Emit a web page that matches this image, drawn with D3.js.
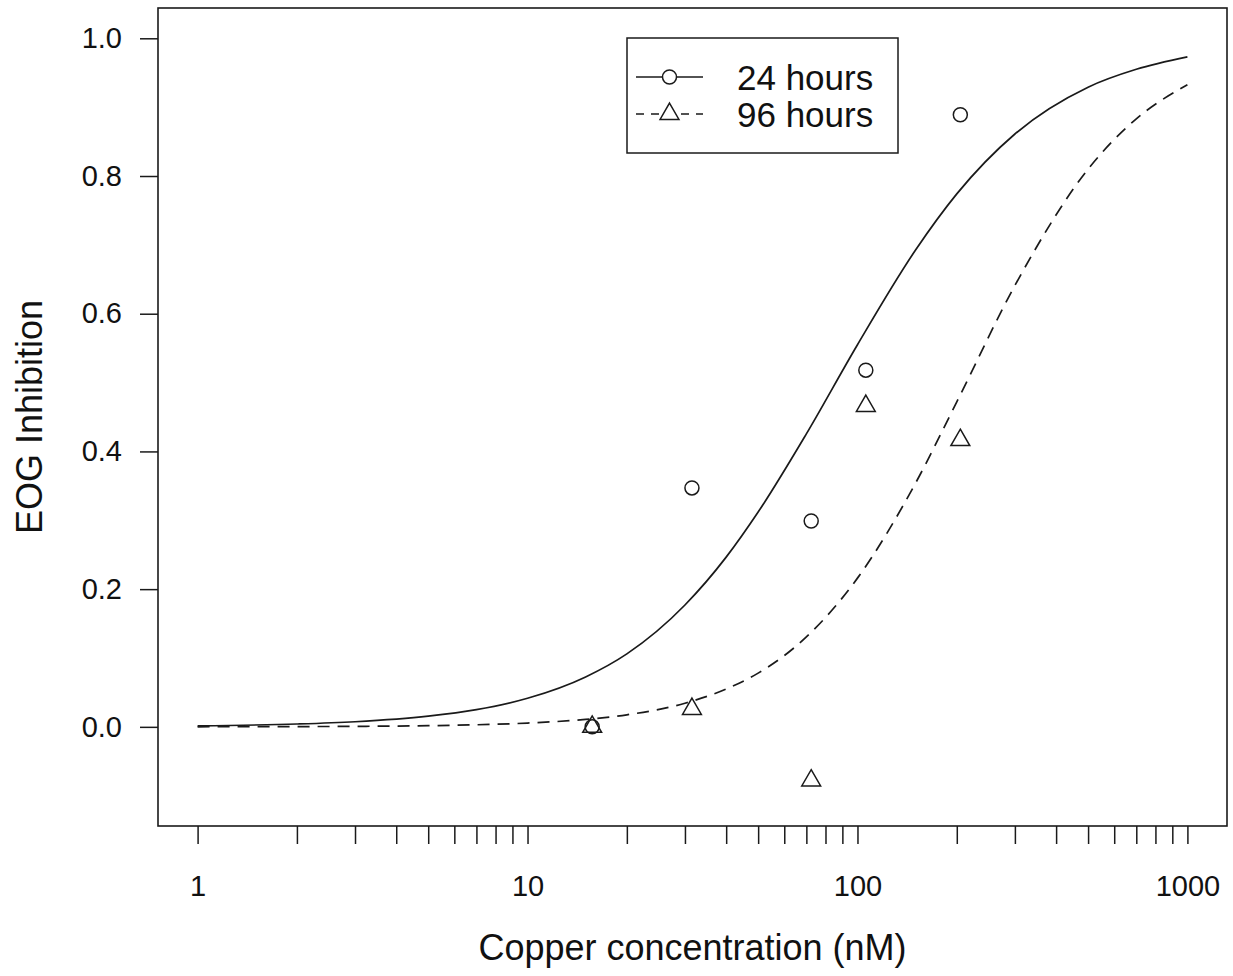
<!DOCTYPE html>
<html>
<head>
<meta charset="utf-8">
<script src="https://cdn.jsdelivr.net/npm/d3@7"></script>
<style>
  body { margin: 0; background: #fff; }
  svg { display: block; }
  text { font-family: "Liberation Sans", Arial, sans-serif; fill: #111; }
</style>
</head>
<body>
<div class="plot"></div>
<script>
// observed points (copper nM vs inhibition)
var conc24 = [15.7, 31.5, 72.4, 106, 205];
var inhib24 = [0.0, 0.347, 0.299, 0.518, 0.889];
var conc96 = [15.7, 31.5, 72.4, 106, 205];
var inhib96 = [0.0, 0.026, -0.078, 0.466, 0.4165];

// fitted curves
var curveConc = [1, 2, 3, 5, 7, 10, 15, 20, 30, 40, 50, 70, 100, 150, 200, 300, 500, 700, 1000];
var fit24 = [0.0015, 0.0041, 0.0074, 0.0155, 0.025, 0.0415, 0.0725, 0.106, 0.177, 0.2465, 0.312,
  0.4255, 0.555, 0.6925, 0.774, 0.861, 0.929, 0.955, 0.973];
var fit96 = [0.0001, 0.0004, 0.0007, 0.0017, 0.003, 0.0055, 0.0108, 0.0175, 0.0343, 0.055, 0.078,
  0.1306, 0.216, 0.354, 0.472, 0.641, 0.81, 0.883, 0.9325];

// axis ticks
var xTicks = [1, 2, 3, 4, 5, 6, 7, 8, 9, 10, 20, 30, 40, 50, 60, 70, 80, 90, 100,
  200, 300, 400, 500, 600, 700, 800, 900, 1000];
var xLabels = [1, 10, 100, 1000];
var yTicks = [0, 0.2, 0.4, 0.6, 0.8, 1.0];
var seriesNames = ["24 hours", "96 hours"];

var W = 1233, H = 976;
var box = { left: 158, right: 1227, top: 8, bottom: 826 };
var ink = "#1a1a1a";

var svg = d3.select(".plot")
  .append("svg")
  .attr("width", W)
  .attr("height", H);

// R style: 4% padding around xlim c(1,1000) (log) and ylim c(-0.1,1)
var xScale = d3.scaleLog()
  .domain([Math.pow(10, -0.12), Math.pow(10, 3.12)])
  .range([box.left, box.right]);
var yScale = d3.scaleLinear()
  .domain([-0.144, 1.044])
  .range([box.bottom, box.top]);

// x axis
var xAxis = d3.axisBottom(xScale)
  .tickValues(xTicks)
  .tickSize(18)
  .tickSizeOuter(0)
  .tickFormat(function (d) { return xLabels.indexOf(d) >= 0 ? d3.format("d")(d) : ""; });
var gx = svg.append("g")
  .attr("transform", "translate(0," + box.bottom + ")")
  .call(xAxis);
gx.select(".domain").remove();
gx.selectAll(".tick line").attr("stroke", ink).attr("stroke-width", 1.5);
gx.selectAll(".tick text")
  .attr("y", 0).attr("dy", 0)
  .attr("transform", "translate(0,70)")
  .style("font-size", "29px")
  .style("font-family", "Liberation Sans, Arial, sans-serif")
  .attr("fill", "#111");

// y axis
var yAxis = d3.axisLeft(yScale)
  .tickValues(yTicks)
  .tickSize(18)
  .tickSizeOuter(0)
  .tickPadding(18)
  .tickFormat(d3.format(".1f"));
var gy = svg.append("g")
  .attr("transform", "translate(" + box.left + ",0)")
  .call(yAxis);
gy.select(".domain").remove();
gy.selectAll(".tick line").attr("stroke", ink).attr("stroke-width", 1.5);
gy.selectAll(".tick text")
  .style("font-size", "29px")
  .style("font-family", "Liberation Sans, Arial, sans-serif")
  .attr("fill", "#111");

// plot frame
svg.append("rect")
  .attr("x", box.left)
  .attr("y", box.top)
  .attr("width", box.right - box.left)
  .attr("height", box.bottom - box.top)
  .attr("fill", "none")
  .attr("stroke", ink)
  .attr("stroke-width", 1.6);

// axis titles
svg.append("text")
  .attr("x", (box.left + box.right) / 2)
  .attr("y", 960)
  .style("text-anchor", "middle")
  .style("font-size", "36px")
  .text("Copper concentration (nM)");

svg.append("text")
  .attr("transform", "translate(42," + (box.top + box.bottom) / 2 + ") rotate(-90)")
  .style("text-anchor", "middle")
  .style("font-size", "36px")
  .text("EOG Inhibition");

// fitted curves
var line = d3.line()
  .x(function (d) { return xScale(d[0]); })
  .y(function (d) { return yScale(d[1]); })
  .curve(d3.curveMonotoneX);

svg.append("path")
  .datum(curveConc.map(function (c, i) { return [c, fit24[i]]; }))
  .attr("d", line)
  .attr("fill", "none")
  .attr("stroke", ink)
  .attr("stroke-width", 1.7);

svg.append("path")
  .datum(curveConc.map(function (c, i) { return [c, fit96[i]]; }))
  .attr("d", line)
  .attr("fill", "none")
  .attr("stroke", ink)
  .attr("stroke-width", 1.7)
  .attr("stroke-dasharray", "12,8");

// symbols, sized like R pch 1 / pch 2
var circleR = 7;
function triPath(r) {
  var top = 1.555 * r, half = 1.3468 * r, low = 0.7776 * r;
  return "M0," + (-top) + "L" + half + "," + low + "L" + (-half) + "," + low + "Z";
}

svg.append("g").selectAll("circle")
  .data(conc24.map(function (c, i) { return [c, inhib24[i]]; }))
  .enter().append("circle")
  .attr("cx", function (d) { return xScale(d[0]); })
  .attr("cy", function (d) { return yScale(d[1]); })
  .attr("r", circleR)
  .attr("fill", "none")
  .attr("stroke", ink)
  .attr("stroke-width", 1.5);

svg.append("g").selectAll("path")
  .data(conc96.map(function (c, i) { return [c, inhib96[i]]; }))
  .enter().append("path")
  .attr("transform", function (d) { return "translate(" + xScale(d[0]) + "," + yScale(d[1]) + ")"; })
  .attr("d", triPath(circleR))
  .attr("fill", "none")
  .attr("stroke", ink)
  .attr("stroke-width", 1.5);

// legend
var legend = svg.append("g");
legend.append("rect")
  .attr("x", 627).attr("y", 38)
  .attr("width", 271).attr("height", 115)
  .attr("fill", "#fff")
  .attr("stroke", ink)
  .attr("stroke-width", 1.5);

seriesNames.forEach(function (name, i) {
  var ly = 77 + i * 37;
  legend.append("line")
    .attr("x1", 636).attr("x2", 703)
    .attr("y1", ly).attr("y2", ly)
    .attr("stroke", ink)
    .attr("stroke-width", 1.6)
    .attr("stroke-dasharray", i === 0 ? null : "8,7");
  if (i === 0) {
    legend.append("circle")
      .attr("cx", 669.5).attr("cy", ly).attr("r", circleR)
      .attr("fill", "#fff").attr("stroke", ink).attr("stroke-width", 1.5);
  } else {
    legend.append("path")
      .attr("transform", "translate(669.5," + ly + ")")
      .attr("d", triPath(circleR))
      .attr("fill", "#fff").attr("stroke", ink).attr("stroke-width", 1.5);
  }
  legend.append("text")
    .attr("x", 737)
    .attr("y", ly + 13)
    .style("font-size", "35px")
    .text(name);
});
</script>
</body>
</html>
